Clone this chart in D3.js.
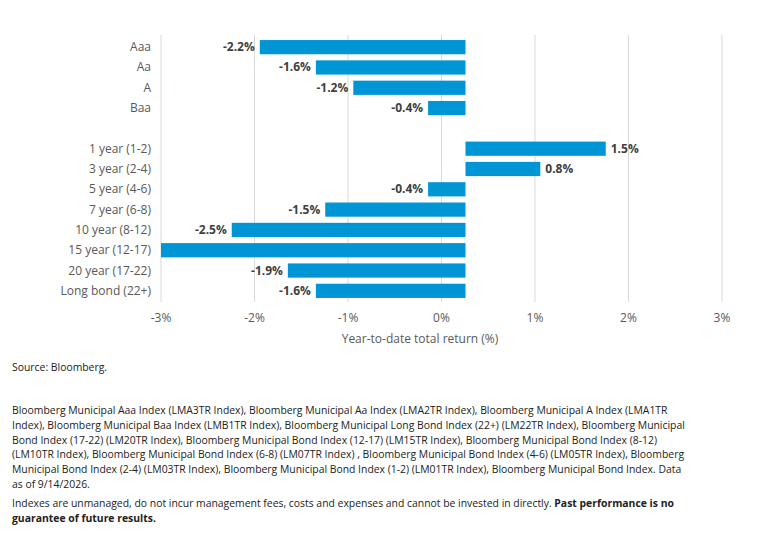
<!DOCTYPE html>
<html><head><meta charset="utf-8">
<script src="https://cdn.jsdelivr.net/npm/d3@7"></script>
<style>body{margin:0;background:#fff;font-family:"Open Sans",Roboto,sans-serif;}</style>
</head><body><svg id="c" width="759" height="540"></svg>
<script>
const categories=["Aaa","Aa","A","Baa","","1 year (1-2)","3 year (2-4)","5 year (4-6)","7 year (6-8)","10 year (8-12)","15 year (12-17)","20 year (17-22)","Long bond (22+)"];
const values=[-2.2,-1.6,-1.2,-0.4,null,1.5,0.8,-0.4,-1.5,-2.5,-3.3,-1.9,-1.6];
const showLabel=[true,true,true,true,false,true,true,true,true,true,false,true,true];
const tickValues=[-3,-2,-1,0,1,2,3];
const footLines=[
"Bloomberg Municipal Aaa Index (LMA3TR Index), Bloomberg Municipal Aa Index (LMA2TR Index), Bloomberg Municipal A Index (LMA1TR",
"Index), Bloomberg Municipal Baa Index (LMB1TR Index), Bloomberg Municipal Long Bond Index (22+) (LM22TR Index), Bloomberg Municipal",
"Bond Index (17-22) (LM20TR Index), Bloomberg Municipal Bond Index (12-17) (LM15TR Index), Bloomberg Municipal Bond Index (8-12)",
"(LM10TR Index), Bloomberg Municipal Bond Index (6-8) (LM07TR Index) , Bloomberg Municipal Bond Index (4-6) (LM05TR Index), Bloomberg",
"Municipal Bond Index (2-4) (LM03TR Index), Bloomberg Municipal Bond Index (1-2) (LM01TR Index), Bloomberg Municipal Bond Index. Data",
"as of 9/14/2026."];
const svg=d3.select("#c");
const axisX=d3.scaleLinear().domain([-3,3]).range([161,722]);
const barX=d3.scaleLinear().domain([-3,3]).range([185,746]);
const y=d3.scaleBand().domain(d3.range(categories.length)).range([37,301]).paddingInner(0.3).paddingOuter(0.15);
svg.append("defs").append("clipPath").attr("id","clip").append("rect").attr("x",161).attr("y",0).attr("width",600).attr("height",320);
svg.append("g").selectAll("line").data(tickValues).join("line")
 .attr("x1",d=>axisX(d)).attr("x2",d=>axisX(d)).attr("y1",35).attr("y2",302).attr("stroke","#d9d9d9");
const g=svg.append("g").attr("clip-path","url(#clip)");
const data=values.map((v,i)=>({v,i})).filter(d=>d.v!==null);
g.selectAll("rect").data(data).join("rect")
 .attr("x",d=>barX(Math.min(0,d.v))).attr("width",d=>Math.abs(barX(d.v)-barX(0)))
 .attr("y",d=>y(d.i)).attr("height",y.bandwidth()).attr("fill","#0096d6");
svg.append("g").selectAll("text").data(data.filter(d=>showLabel[d.i])).join("text")
 .attr("x",d=>d.v<0?barX(d.v)-5:barX(d.v)+5).attr("y",d=>y(d.i)+y.bandwidth()/2+4)
 .attr("text-anchor",d=>d.v<0?"end":"start").attr("font-size",12).attr("font-weight","bold").attr("fill","#404040")
 .text(d=>d.v.toFixed(1)+"%");
svg.append("g").selectAll("text").data(categories.map((c,i)=>({c,i})).filter(d=>d.c)).join("text")
 .attr("x",151).attr("y",d=>y(d.i)+y.bandwidth()/2+4).attr("text-anchor","end").attr("font-size",12).attr("fill","#595959").text(d=>d.c);
svg.append("g").selectAll("text").data(tickValues).join("text")
 .attr("x",d=>axisX(d)).attr("y",322).attr("text-anchor","middle").attr("font-size",12).attr("fill","#595959").text(d=>d+"%");
svg.append("text").attr("x",420).attr("y",343).attr("text-anchor","middle").attr("font-size",12).attr("fill","#595959").text("Year-to-date total return (%)");
const f=svg.append("g").attr("font-size",10.4).attr("fill","#222");
f.append("text").attr("x",12).attr("y",371).text("Source: Bloomberg.");
footLines.forEach((l,i)=>f.append("text").attr("x",12).attr("y",414+i*14.8).text(l));
const t=f.append("text").attr("x",12).attr("y",507);
t.append("tspan").text("Indexes are unmanaged, do not incur management fees, costs and expenses and cannot be invested in directly. ");
t.append("tspan").attr("font-weight","bold").text("Past performance is no");
f.append("text").attr("x",12).attr("y",522).attr("font-weight","bold").text("guarantee of future results.");
</script></body></html>
